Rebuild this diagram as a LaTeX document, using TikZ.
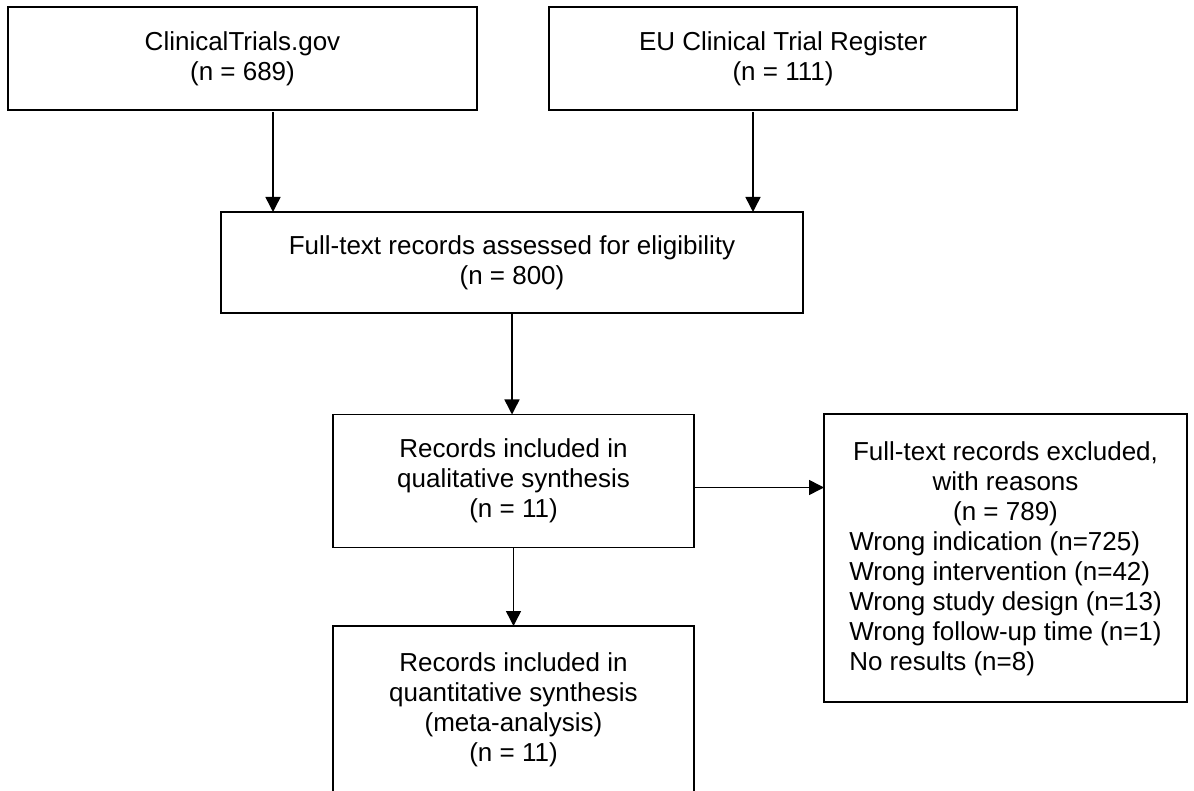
\documentclass[tikz,border=0pt]{standalone}
\usepackage{fontspec}
\setmainfont{Liberation Sans}
\usetikzlibrary{arrows.meta,calc}
\begin{document}
\begin{tikzpicture}[x=1pt,y=-1pt,
  box/.style={draw=black,line width=1.5pt,inner sep=0pt,outer sep=0pt,align=center,
    font=\fontsize{26}{30}\selectfont,fill=white},
  txt/.style={inner sep=0pt,outer sep=0pt,align=center,font=\fontsize{26}{30}\selectfont},
  arr/.style={line width=1.5pt,-{Triangle[length=15pt,width=15pt]}}]
\useasboundingbox[fill=white] (0,0) rectangle (1194,791);
\begin{scope}
\clip (0,0) rectangle (1194,791);
\node[box,minimum width=469pt,minimum height=103pt] (b1) at (242.5,58.5) {ClinicalTrials.gov\\(n = 689)};
\node[box,minimum width=468pt,minimum height=103pt] (b2) at (783,58.5) {EU Clinical Trial Register\\(n = 111)};
\node[box,minimum width=582pt,minimum height=101pt] (b3) at (512,262.5) {Full-text records assessed for eligibility\\(n = 800)};
\node[box,minimum width=361pt,minimum height=133pt] (b4) at (513.5,481) {Records included in\\qualitative synthesis\\(n = 11)};
\node[box,minimum width=361pt,minimum height=300pt] (b5) at (513.5,776) {};
\node[txt,anchor=north] (t5) at ([yshift=-27pt]b5.north) {Records included in\\quantitative synthesis\\(meta-analysis)\\(n = 11)};
\node[box,minimum width=363pt,minimum height=288pt] (b6) at (1005.5,558) {};
\node[txt] (t6) at ([yshift=-3pt]b6.center) {Full-text records excluded,\\with reasons\\(n = 789)\\\begin{tabular}[t]{@{}l@{}}Wrong indication (n=725)\\Wrong intervention (n=42)\\Wrong study design (n=13)\\Wrong follow-up time (n=1)\\No results (n=8)\end{tabular}};
\end{scope}
\draw[arr] ([xshift=30.5pt,yshift=-2pt]b1.south) -- ([xshift=30.5pt]b1.south |- b3.north);
\draw[arr] ([xshift=-30pt,yshift=-2pt]b2.south) -- ([xshift=-30pt]b2.south |- b3.north);
\draw[arr] (b3.south) -- (b3.south |- b4.north);
\draw[arr] (b4.south) -- (b4.south |- b5.north);
\draw[arr] ([yshift=-6.5pt]b4.east) -- ([yshift=-6.5pt]b4.east -| b6.west);
\end{tikzpicture}
\end{document}
